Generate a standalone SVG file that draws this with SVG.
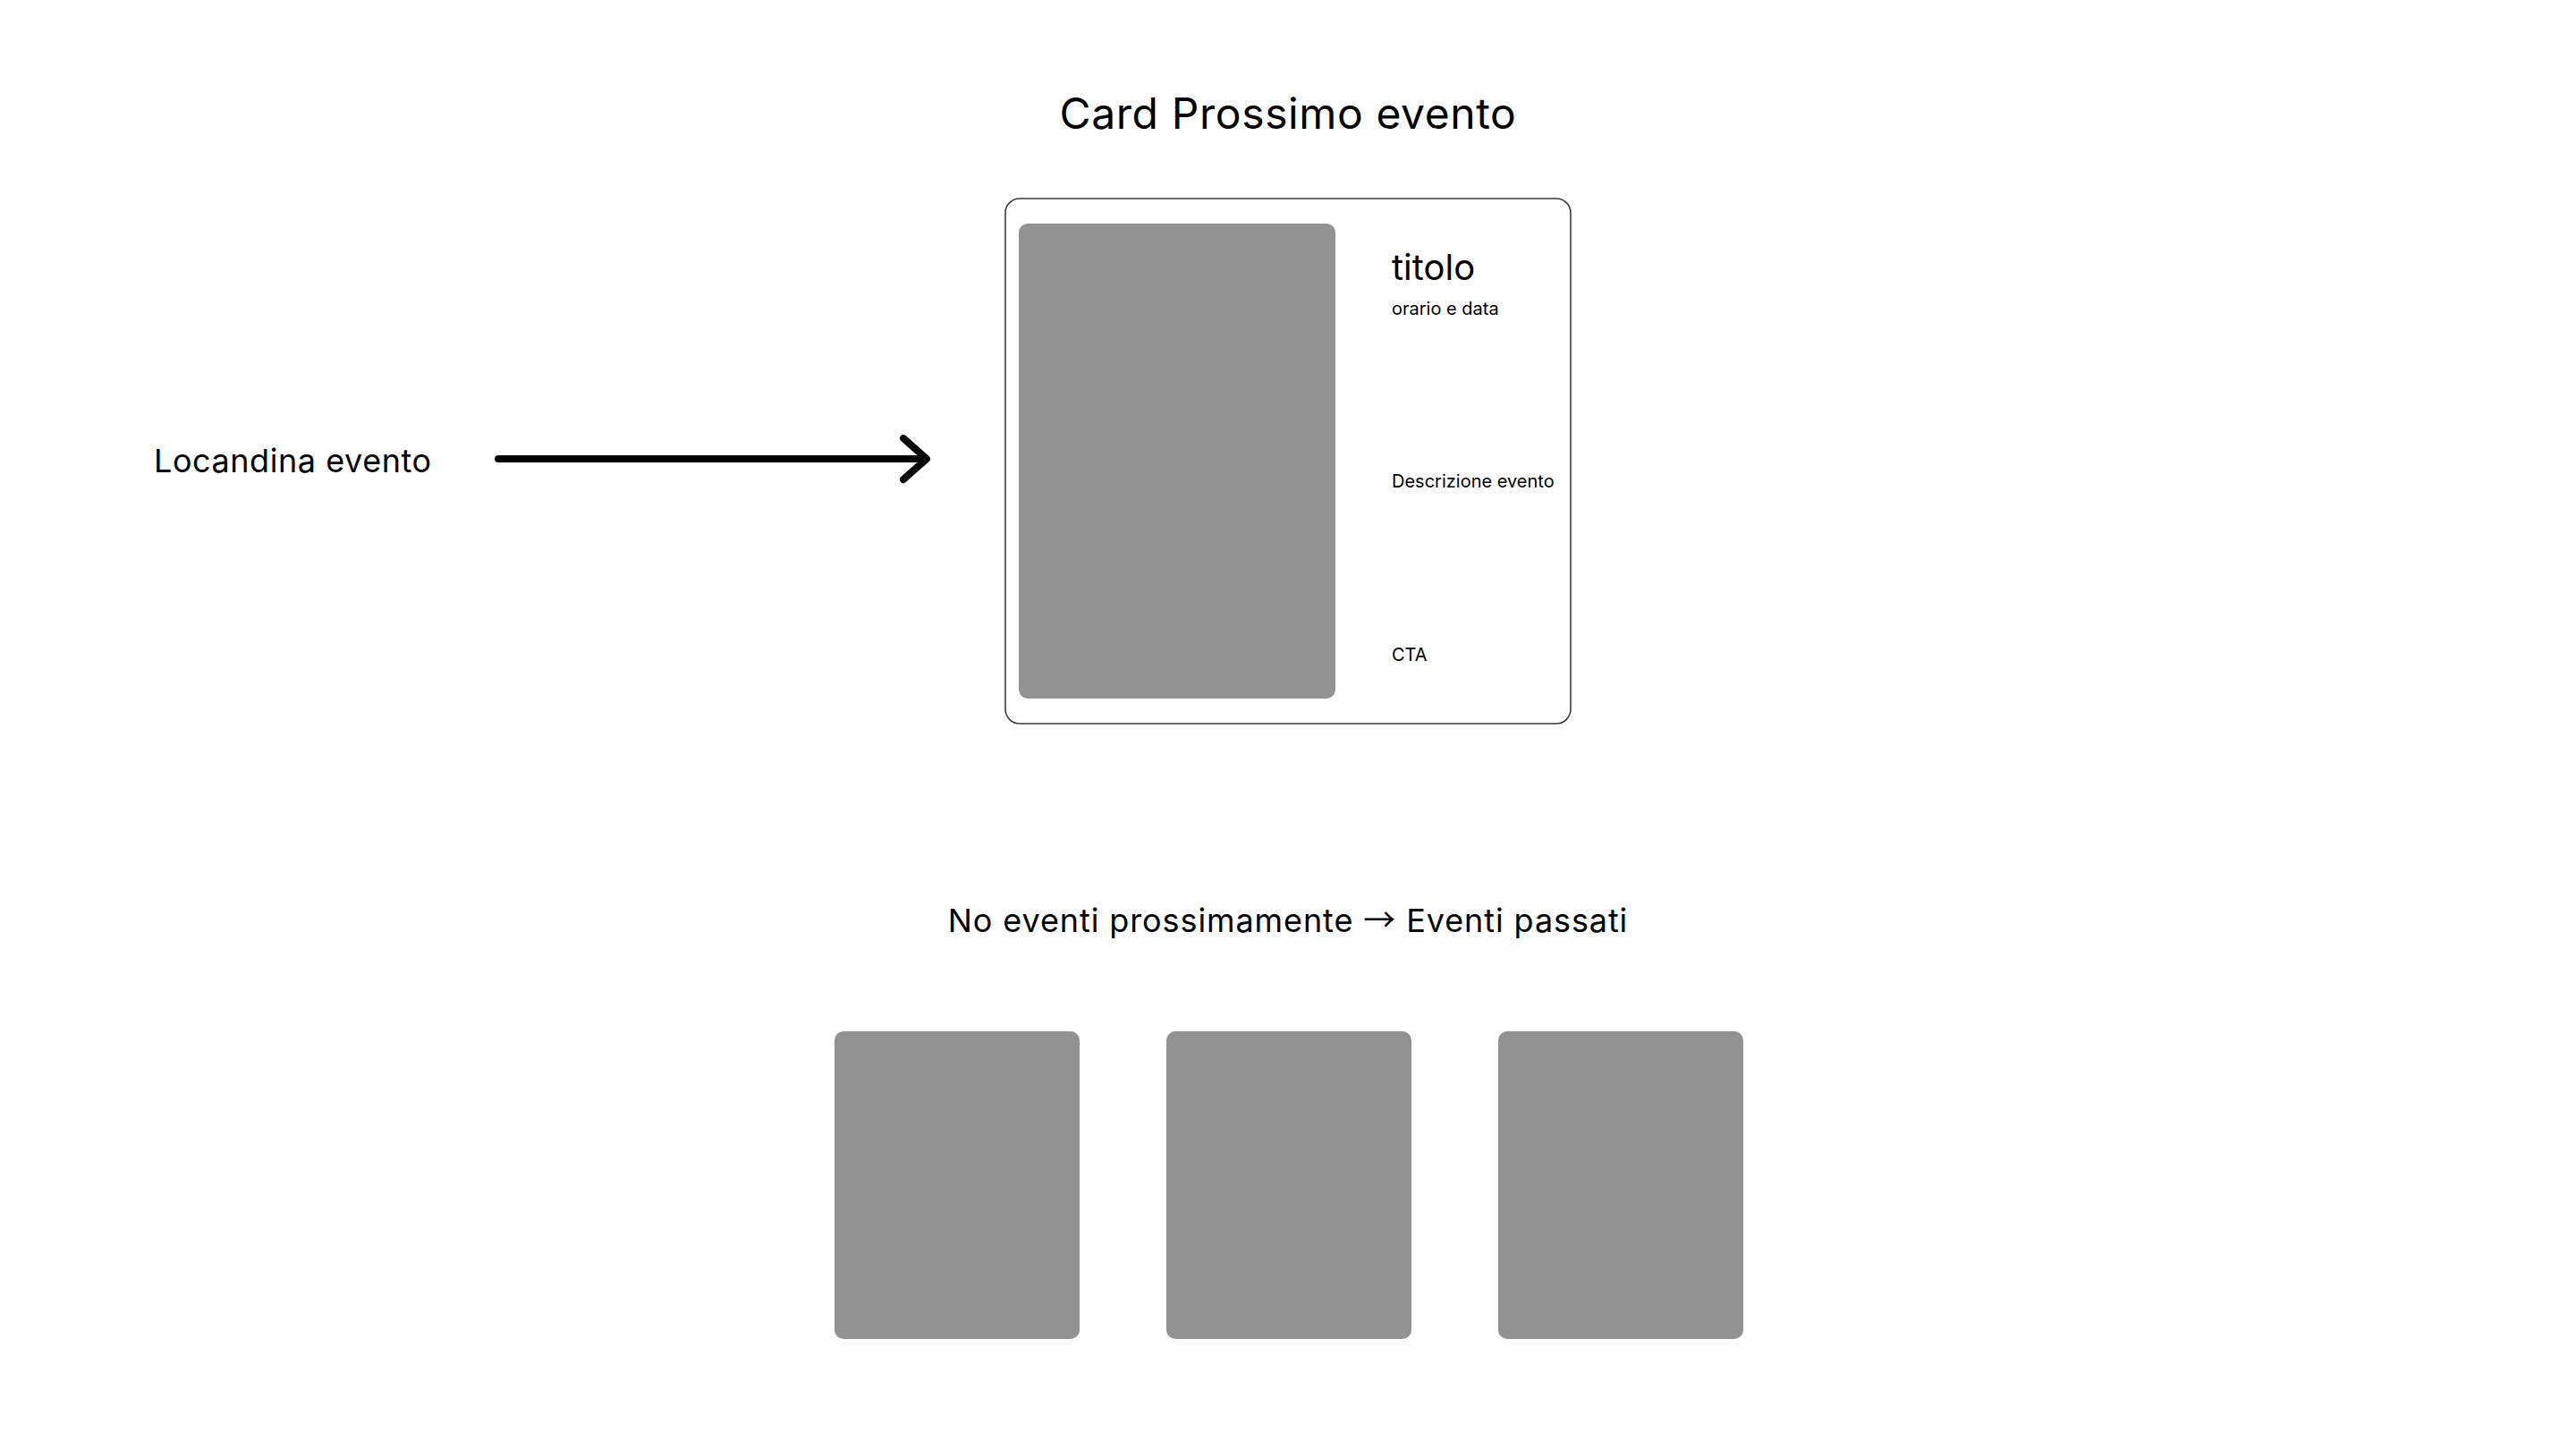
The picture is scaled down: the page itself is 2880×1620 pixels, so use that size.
<svg xmlns="http://www.w3.org/2000/svg" width="2880" height="1620" viewBox="0 0 2880 1620">
<style>
text{font-family:Inter,"Liberation Sans",sans-serif;fill:#000}
.h{font-size:48px;letter-spacing:0.6px}
.l{font-size:36px;letter-spacing:0.55px}
.sub{letter-spacing:0.9px}
.t{font-size:40px}
.s{font-size:20px}
.ar{font-family:"Noto Sans CJK SC",sans-serif}
.ph{fill:#939292}
.card{fill:#fff;stroke:#3a3a3a;stroke-width:1.6}
.conn{fill:none;stroke:#000;stroke-width:8;stroke-linecap:round;stroke-linejoin:round}
</style>
<rect width="2880" height="1620" fill="#fff"/>
<g id="title"><text class="h" x="1440" y="144" text-anchor="middle">Card Prossimo evento</text></g>
<g id="card">
<rect class="card" x="1124" y="222" width="632" height="587" rx="16"/>
<rect class="ph" x="1139" y="250" width="354" height="531" rx="10"/>
<text class="t" x="1556" y="313">titolo</text>
<text class="s" x="1556" y="352">orario e data</text>
<text class="s" x="1556" y="545">Descrizione evento</text>
<text class="s" x="1556" y="739">CTA</text>
</g>
<g id="locandina"><text class="l" x="172" y="528">Locandina evento</text></g>
<g id="connectors">
<path class="conn" d="M557 513H1035M1010 490L1036 513L1010 536"/>
</g>
<g id="subtitle"><text class="l sub" x="1440" y="1042" text-anchor="middle">No eventi prossimamente <tspan class="ar">→</tspan> Eventi passati</text></g>
<g id="past1"><rect class="ph" x="933" y="1153" width="274" height="344" rx="10"/></g>
<g id="past2"><rect class="ph" x="1304" y="1153" width="274" height="344" rx="10"/></g>
<g id="past3"><rect class="ph" x="1675" y="1153" width="274" height="344" rx="10"/></g>
</svg>
